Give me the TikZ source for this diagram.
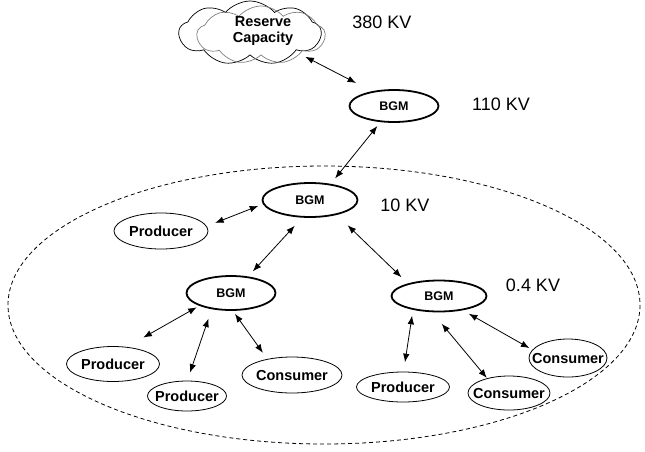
\documentclass[tikz,border=0pt]{standalone}
\usepackage{fontspec}
\setmainfont{Liberation Sans}
\usetikzlibrary{shapes.geometric,shapes.symbols,arrows.meta}
% centre a label inside a fixed-size shape without letting it grow the shape
\newcommand{\fixlabel}[1]{\makebox[0pt]{\smash{\raisebox{-.36em}{#1}}}}
\begin{document}
\begin{tikzpicture}[x=1pt,y=-1pt,
  bgm/.style={ellipse,draw,line width=1.8pt,inner sep=0pt,
    font=\fontsize{12.5}{13}\selectfont\bfseries},
  party/.style={ellipse,draw,line width=0.8pt,inner sep=0pt,
    font=\fontsize{14.5}{16}\selectfont\bfseries},
  volt/.style={inner sep=0pt,font=\fontsize{18}{20}\selectfont},
  link/.style={{Latex[length=8.5pt,width=6.5pt]}-{Latex[length=8.5pt,width=6.5pt]},
    line width=0.8pt},
  puff/.style={cloud,draw,cloud puffs=9,cloud puff arc=100,inner sep=0pt,line width=0.7pt}
]
\useasboundingbox (0,0) rectangle (645,451);
\fill[white] (0,0) rectangle (645,451);

% local distribution area
\draw[line width=0.8pt,dash pattern=on 4pt off 3pt]
  (324,305) ellipse [x radius=316, y radius=139];

% reserve capacity (double cloud)
\node[puff,minimum width=142pt,minimum height=64pt] (cloudA) at (250,33) {};
\node[puff,draw=black!50,shape border rotate=15,minimum width=128pt,minimum height=58pt] (cloudB) at (261,35) {};
\node[inner sep=0pt,align=center,font=\fontsize{14.5}{16}\selectfont\bfseries]
  (rctext) at (263,31) {Reserve\\Capacity};

% balancing group managers
\node[bgm,minimum width=89pt,minimum height=32pt] (bgmA) at (394,106) {\fixlabel{BGM}};
\node[bgm,minimum width=95pt,minimum height=34pt] (bgmB) at (310,200) {\fixlabel{BGM}};
\node[bgm,minimum width=89pt,minimum height=34pt] (bgmL) at (231,293) {\fixlabel{BGM}};
\node[bgm,minimum width=95pt,minimum height=31pt] (bgmR) at (439,296) {\fixlabel{BGM}};

% producers and consumers
\node[party,minimum width=94pt,minimum height=36pt] (prodA) at (161,231) {\fixlabel{Producer}};
\node[party,minimum width=93pt,minimum height=35pt] (prod1) at (113,364) {\fixlabel{Producer}};
\node[party,minimum width=79pt,minimum height=30pt] (prod2) at (187,396) {\fixlabel{Producer}};
\node[party,minimum width=100pt,minimum height=36pt] (consL) at (292,375) {\fixlabel{Consumer}};
\node[party,minimum width=93pt,minimum height=30pt] (prodR) at (403,387) {\fixlabel{Producer}};
\node[party,minimum width=82pt,minimum height=34pt] (consM) at (509,393) {\fixlabel{Consumer}};
\node[party,minimum width=78pt,minimum height=38pt] (consR) at (568,358) {\fixlabel{Consumer}};

% voltage levels
\node[volt] (v380) at (382,22) {380 KV};
\node[volt] (v110) at (501,104) {110 KV};
\node[volt] (v10) at (405,205) {10 KV};
\node[volt] (v04) at (533,285) {0.4 KV};

% exchanges
\draw[link,shorten <=6pt,shorten >=18pt] (cloudB.-26) -- (bgmA.146);
\draw[link,shorten <=5pt,shorten >=7pt] (bgmA.230) -- (bgmB.38);
\draw[link,shorten <=9pt,shorten >=5pt] (prodA.6) -- (bgmB.185);
\draw[link,shorten <=11pt,shorten >=7pt] (bgmB.-114) -- (bgmL.44);
\draw[link,shorten <=15pt,shorten >=9pt] (bgmB.-29) -- (bgmR.158);
\draw[link,shorten <=3pt,shorten >=19pt] (bgmL.202) -- (prod1.51);
\draw[link,shorten <=10pt,shorten >=8.5pt] (bgmL.220) -- (prod2.89);
\draw[link,shorten <=3.6pt,shorten >=7.6pt] (bgmL.-84) -- (consL.147);
\draw[link,shorten <=6pt,shorten >=9.5pt] (bgmR.208) -- (prodR.88);
\draw[link,shorten <=15pt,shorten >=0.5pt] (bgmR.-113) -- (consM.146);
\draw[link,shorten <=7pt,shorten >=3.4pt] (bgmR.-31) -- (consR.167);
\end{tikzpicture}
\end{document}
